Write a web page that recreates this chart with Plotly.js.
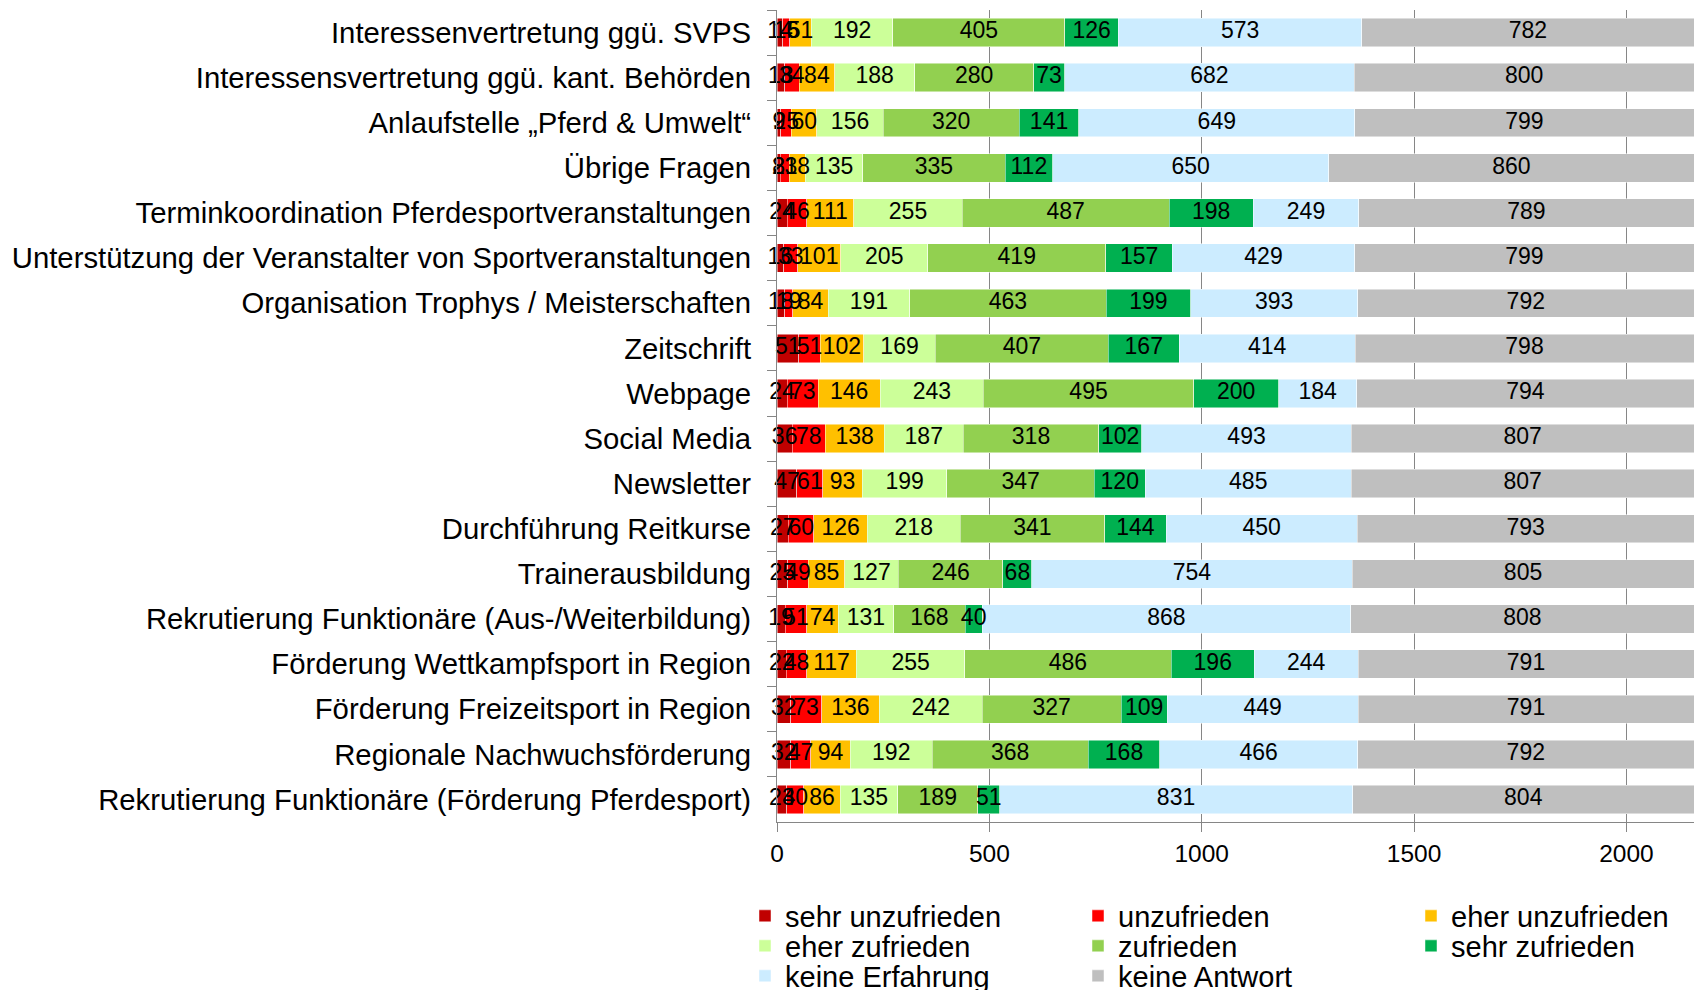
<!DOCTYPE html>
<html><head><meta charset="utf-8">
<script src="https://cdn.plot.ly/plotly-3.0.1.min.js"></script>
<style>html,body{margin:0;padding:0;background:#fff}#chart{width:1701px;height:990px}</style>
</head><body><div id="chart"></div>
<script>
const categories = [
  "Interessenvertretung ggü. SVPS",
  "Interessensvertretung ggü. kant. Behörden",
  "Anlaufstelle „Pferd & Umwelt“",
  "Übrige Fragen",
  "Terminkoordination Pferdesportveranstaltungen",
  "Unterstützung der Veranstalter von Sportveranstaltungen",
  "Organisation Trophys / Meisterschaften",
  "Zeitschrift",
  "Webpage",
  "Social Media",
  "Newsletter",
  "Durchführung Reitkurse",
  "Trainerausbildung",
  "Rekrutierung Funktionäre (Aus-/Weiterbildung)",
  "Förderung Wettkampfsport in Region",
  "Förderung Freizeitsport in Region",
  "Regionale Nachwuchsförderung",
  "Rekrutierung Funktionäre (Förderung Pferdesport)"
];
const seriesNames = ["sehr unzufrieden","unzufrieden","eher unzufrieden","eher zufrieden","zufrieden","sehr zufrieden","keine Erfahrung","keine Antwort"];
const sehrUnzufrieden = [14,18,9,8,24,16,18,51,24,36,47,27,25,19,22,32,32,23];
const unzufrieden     = [16,34,25,21,46,33,19,51,73,78,61,60,49,51,48,73,47,40];
const eherUnzufrieden = [51,84,60,38,111,101,84,102,146,138,93,126,85,74,117,136,94,86];
const eherZufrieden   = [192,188,156,135,255,205,191,169,243,187,199,218,127,131,255,242,192,135];
const zufrieden       = [405,280,320,335,487,419,463,407,495,318,347,341,246,168,486,327,368,189];
const sehrZufrieden   = [126,73,141,112,198,157,199,167,200,102,120,144,68,40,196,109,168,51];
const keineErfahrung  = [573,682,649,650,249,429,393,414,184,493,485,450,754,868,244,449,466,831];
const keineAntwort    = [782,800,799,860,789,799,792,798,794,807,807,793,805,808,791,791,792,804];
const xTicks = [0,500,1000,1500,2000];

const seriesValues = [sehrUnzufrieden,unzufrieden,eherUnzufrieden,eherZufrieden,zufrieden,sehrZufrieden,keineErfahrung,keineAntwort];
const colors = ["#C00000","#FF0000","#FFC000","#CCFF99","#92D050","#00B050","#CCECFF","#BFBFBF"];
const FONT = "Liberation Sans, Arial, sans-serif";

// legend grid: 3 columns, rows filled left to right
const legendCols = [745, 1078, 1411];      // container px (left)
const legendRows = [916, 946, 976];        // container px (center)

const traces = [];
const layout = {
  width:1701, height:990,
  margin:{l:777,r:7,t:10,b:168},
  barmode:"stack", bargap:0.37,
  paper_bgcolor:"#fff", plot_bgcolor:"#fff",
  font:{family:FONT,color:"#000"},
  showlegend:true,
  xaxis:{range:[0,2159], autorange:false, tickvals:xTicks, ticktext:xTicks.map(String),
    ticks:"outside", ticklen:9, tickcolor:"#868686", tickwidth:1,
    showgrid:true, gridcolor:"#868686", gridwidth:1,
    showline:true, linecolor:"#868686", linewidth:1, zeroline:false,
    tickfont:{family:FONT,size:24.5,color:"#000"}, ticklabelstandoff:1, fixedrange:true},
  yaxis:{type:"category", autorange:false, range:[categories.length-0.5,-0.5], tickson:"boundaries",
    ticks:"outside", ticklen:9, tickcolor:"#868686", tickwidth:1,
    showline:true, linecolor:"#868686", linewidth:1, showgrid:false, zeroline:false,
    tickfont:{family:FONT,size:29.3,color:"#000"}, ticklabelstandoff:19, fixedrange:true}
};

seriesNames.forEach((name,i)=>{
  const lid = i===0 ? "legend" : "legend"+(i+1);
  traces.push({
    type:"bar", orientation:"h", name:name,
    y:categories, x:seriesValues[i],
    marker:{color:colors[i], line:{width:0.8,color:"rgba(255,255,255,0.6)"}},
    legend:lid, hoverinfo:"x+name"
  });
  layout[lid] = {orientation:"h", font:{family:FONT,size:29,color:"#000"},
    xref:"container", yref:"container",
    x:legendCols[i%3]/1701, y:1-legendRows[Math.floor(i/3)]/990,
    xanchor:"left", yanchor:"middle", bgcolor:"rgba(0,0,0,0)", borderwidth:0};
});

// data labels drawn above all bars, at the middle of each stacked segment
const base = categories.map(()=>0);
seriesValues.forEach((vals,i)=>{
  const mids = vals.map((v,k)=>base[k]+v/2);
  vals.forEach((v,k)=>{ base[k]+=v; });
  traces.push({
    type:"scatter", mode:"text", x:mids, y:categories,
    text:vals.map(String), textposition:"middle center",
    textfont:{family:FONT,size:23,color:"#000"},
    cliponaxis:false, showlegend:false, hoverinfo:"skip"
  });
});

Plotly.newPlot("chart", traces, layout, {displayModeBar:false, staticPlot:true});
</script></body></html>
